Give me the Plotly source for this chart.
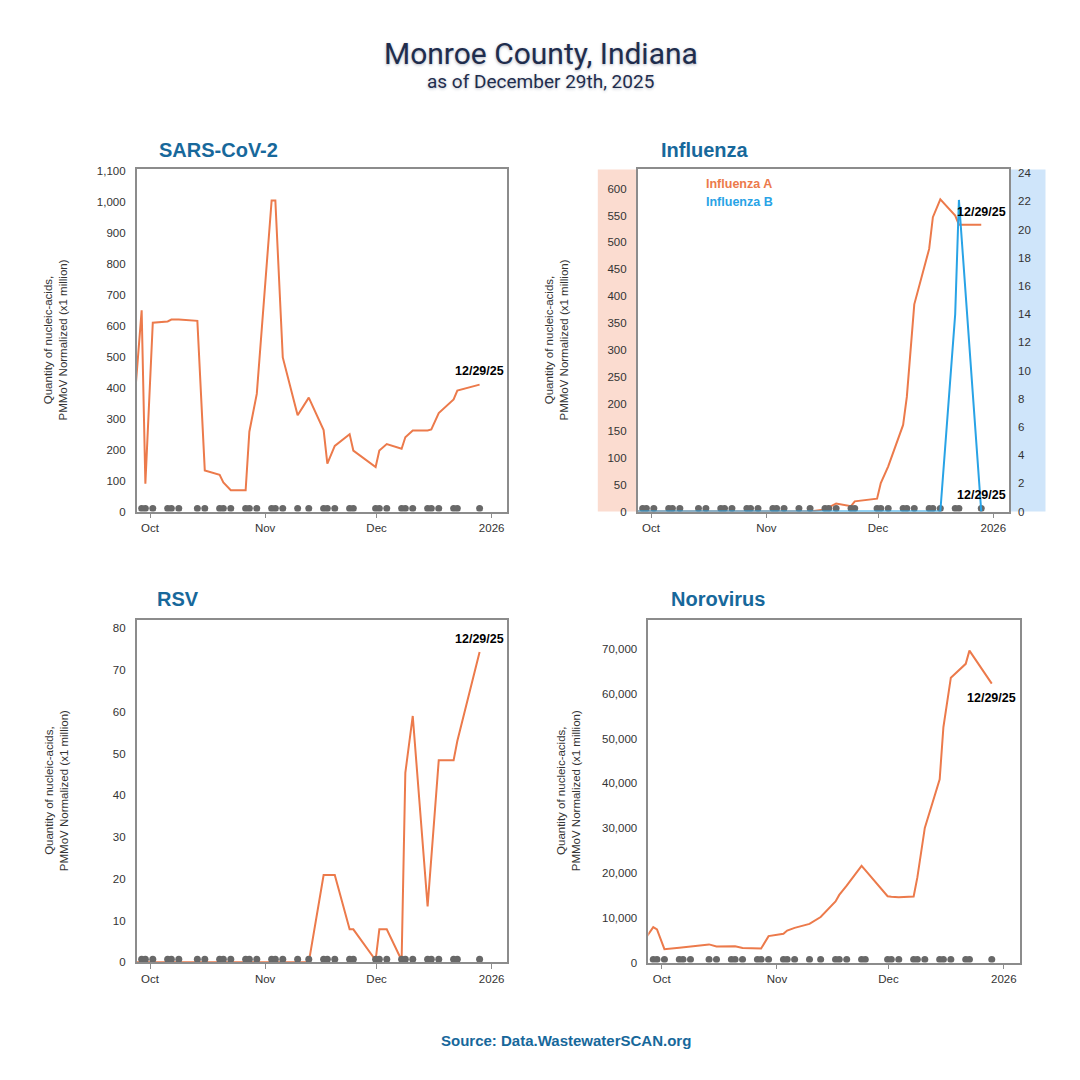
import pandas as pd
import plotly.graph_objects as go

# ---------------- data ----------------
dates = ["2025-09-24", "2025-09-28", "2025-09-29", "2025-10-01", "2025-10-05", "2025-10-06",
         "2025-10-08", "2025-10-13", "2025-10-15", "2025-10-19", "2025-10-20", "2025-10-22",
         "2025-10-26", "2025-10-27", "2025-10-29", "2025-11-02", "2025-11-03", "2025-11-05",
         "2025-11-09", "2025-11-12", "2025-11-16", "2025-11-17", "2025-11-19", "2025-11-23",
         "2025-11-24", "2025-11-30", "2025-12-01", "2025-12-03", "2025-12-07", "2025-12-08",
         "2025-12-10", "2025-12-14", "2025-12-15", "2025-12-17", "2025-12-21", "2025-12-22",
         "2025-12-28"]

sars = [40, 650, 90, 610, 614, 620, 620, 616, 133, 119, 94, 69,
        69, 258, 380, 1005, 1005, 498, 311, 368, 263, 155, 212, 250,
        197, 144, 197, 218, 203, 240, 262, 262, 265, 318, 362, 391, 410]

flu_a = [0, 0, 0, 0, 0, 0, 0, 0, 0, 0, 0, 0,
         0, 0, 0, 0, 0, 0, 0, 0, 4, 8, 15, 10,
         19, 24, 53, 84, 161, 213, 385, 488, 547, 580, 550, 533, 533]

flu_b = [0, 0, 0, 0, 0, 0, 0, 0, 0, 0, 0, 0,
         0, 0, 0, 0, 0, 0, 0, 0, 0, 0, 0, 0,
         0, 0, 0, 0, 0, 0, 0, 0, 0, 0, 14, 22.1, 0]

rsv = [0, 0, 0, 0, 0, 0, 0, 0, 0, 0, 0, 0,
       0, 0, 0, 0, 0, 0, 0, 0, 20.9, 20.9, 20.9, 7.9,
       7.9, 0.5, 7.9, 7.9, 0.5, 45.4, 59, 13.4, 25.1, 48.4, 48.4, 53, 74.3]

noro = [3100, 7920, 7410, 2990, 3300, 3400, 3550, 4050, 3600, 3650, 3650, 3250,
        3150, 3150, 5900, 6410, 7150, 7740, 8620, 10170, 13630, 15100, 17170, 21590,
        20620, 14810, 14700, 14600, 14740, 19000, 30060, 40890, 52530, 63590, 66680, 69630, 62260]

month_ticks = ["2025-10-01", "2025-11-01", "2025-12-01", "2026-01-01"]
month_labels = ["Oct", "Nov", "Dec", "2026"]
report_label = "12/29/25"

# ---------------- style ----------------
W = H = 1080
ORANGE = "#ec7a4b"
BLUE = "#28a3e6"
DOT = "#686868"
AXIS = "#8c8c8c"
TITLE_BLUE = "#17689b"
TXT = "#333333"
SANS = "Liberation Sans, Arial, sans-serif"

x = pd.to_datetime(dates) + pd.Timedelta(hours=18)
x_range = ["2025-09-27 10:00", "2026-01-05 05:00"]


def px(v):
    return v / W


def py(v):
    return 1 - v / H


fig = go.Figure()

xaxis_common = dict(type="date", range=x_range, tickvals=month_ticks, ticktext=month_labels,
                    ticks="outside", ticklen=5, tickwidth=1, tickcolor=AXIS,
                    showline=True, linecolor=AXIS, linewidth=1.5, mirror=True,
                    showgrid=False, zeroline=False,
                    tickfont=dict(family=SANS, size=11.5, color=TXT))
yaxis_common = dict(showline=True, linecolor=AXIS, linewidth=1.5, mirror=True,
                    showgrid=False, zeroline=False, ticks="", tickformat=",",
                    ticklabelstandoff=7,
                    tickfont=dict(family=SANS, size=11.5, color=TXT))

panels = [
    dict(key="1", title="SARS-CoV-2", xd=(136.7, 507.3), yd=(167, 512.3), yr=[0, 1105], dt=100,
         tpos=(157, 147), ytx=56),
    dict(key="2", title="Influenza", xd=(637.7, 1009), yd=(167, 512.3), yr=[0, 635.6], dt=50,
         tpos=(659, 147), ytx=557),
    dict(key="3", title="RSV", xd=(136.7, 507.3), yd=(621.7, 967.3), yr=[0, 82], dt=10,
         tpos=(155, 601), ytx=56),
    dict(key="4", title="Norovirus", xd=(648.3, 1019.5), yd=(621.7, 967.5), yr=[0, 76480], dt=10000,
         tpos=(669, 601), ytx=568),
]

layout_axes = {}
annotations = []
for p in panels:
    k = p["key"]
    xn = "xaxis" if k == "1" else "xaxis" + k
    yn = "yaxis" if k == "1" else "yaxis" + k
    layout_axes[xn] = dict(xaxis_common, domain=[px(p["xd"][0]), px(p["xd"][1])],
                           anchor="y" if k == "1" else "y" + k)
    layout_axes[yn] = dict(yaxis_common, domain=[py(p["yd"][1]), py(p["yd"][0])],
                           range=p["yr"], dtick=p["dt"], tick0=0,
                           anchor="x" if k == "1" else "x" + k)
    annotations.append(dict(text="<b>" + p["title"] + "</b>", xref="paper", yref="paper",
                            x=px(p["tpos"][0]), y=py(p["tpos"][1]), xanchor="left", yanchor="middle",
                            showarrow=False, font=dict(family=SANS, size=20, color=TITLE_BLUE)))
    annotations.append(dict(text="Quantity of nucleic-acids,<br>PMMoV Normalized (x1 million)",
                            xref="paper", yref="paper", textangle=-90,
                            x=px(p["ytx"]), y=py((p["yd"][0] + p["yd"][1]) / 2),
                            xanchor="center", yanchor="middle", showarrow=False,
                            font=dict(family=SANS, size=11.5, color=TXT)))

# influenza right axis
layout_axes["yaxis5"] = dict(overlaying="y2", side="right", anchor="x2", range=[0, 24.26], dtick=2, tick0=0,
                             showline=False, showgrid=False, zeroline=False, ticks="",
                             ticklabelstandoff=8, tickfont=dict(family=SANS, size=11.5, color=TXT))


def add_line(yvals, xa, ya, color):
    fig.add_trace(go.Scatter(x=x, y=yvals, mode="lines", xaxis=xa, yaxis=ya,
                             line=dict(color=color, width=2), showlegend=False, hoverinfo="skip"))


def add_dots(xa, ya, ytop):
    fig.add_trace(go.Scatter(x=x, y=[ytop * 0.0087] * len(x), mode="markers", xaxis=xa, yaxis=ya,
                             marker=dict(color=DOT, size=7), showlegend=False, hoverinfo="skip"))


add_line(sars, "x", "y", ORANGE)
add_dots("x", "y", 1105)

add_line(flu_a, "x2", "y2", ORANGE)
add_line(flu_b, "x2", "y5", BLUE)
add_dots("x2", "y2", 635.6)

add_line(rsv, "x3", "y3", ORANGE)
add_dots("x3", "y3", 82)

add_line(noro, "x4", "y4", ORANGE)
add_dots("x4", "y4", 76480)

# end-point labels
last_x = x[-1]
for xa, ya, val, shift in [("x", "y", sars[-1], 14), ("x2", "y2", flu_a[-1], 13),
                           ("x2", "y5", flu_b[-1], 17), ("x3", "y3", rsv[-1], 13),
                           ("x4", "y4", noro[-1], -14.5)]:
    annotations.append(dict(text="<b>" + report_label + "</b>", x=last_x, y=val, xref=xa, yref=ya,
                            showarrow=False, yshift=shift, xanchor="center", yanchor="middle",
                            font=dict(family=SANS, size=12.5, color="#000000")))

# influenza legend
annotations.append(dict(text="<b>Influenza A</b>", xref="paper", yref="paper", x=px(704), y=py(182),
                        xanchor="left", yanchor="middle", showarrow=False,
                        font=dict(family=SANS, size=12.5, color=ORANGE)))
annotations.append(dict(text="<b>Influenza B</b>", xref="paper", yref="paper", x=px(704), y=py(199.5),
                        xanchor="left", yanchor="middle", showarrow=False,
                        font=dict(family=SANS, size=12.5, color=BLUE)))

# main titles and source
annotations.append(dict(text="Monroe County, Indiana", xref="paper", yref="paper", x=px(541), y=py(50),
                        xanchor="center", yanchor="middle", showarrow=False,
                        font=dict(family="Roboto, sans-serif", size=30, color="#1f2d4d",
                                  shadow="0px 1px 3px rgba(31,45,77,0.35)")))
annotations.append(dict(text="as of December 29th, 2025", xref="paper", yref="paper", x=px(540), y=py(78),
                        xanchor="center", yanchor="middle", showarrow=False,
                        font=dict(family="Roboto, sans-serif", size=19, color="#1f2d4d",
                                  shadow="0px 1px 3px rgba(31,45,77,0.3)")))
annotations.append(dict(text="<b>Source: Data.WastewaterSCAN.org</b>", xref="paper", yref="paper",
                        x=px(566), y=py(1046), xanchor="center", yanchor="middle", showarrow=False,
                        font=dict(family=SANS, size=15, color=TITLE_BLUE)))

shapes = [
    dict(type="rect", xref="paper", yref="paper", x0=px(597.8), x1=px(637.7), y0=py(512.3), y1=py(167),
         fillcolor="#fbdcd0", line=dict(width=0), layer="below"),
    dict(type="rect", xref="paper", yref="paper", x0=px(1009), x1=px(1045.5), y0=py(512.3), y1=py(167),
         fillcolor="#cfe5fa", line=dict(width=0), layer="below"),
]

fig.update_layout(width=W, height=H, autosize=False, margin=dict(l=0, r=0, t=0, b=0),
                  paper_bgcolor="white", plot_bgcolor="rgba(0,0,0,0)",
                  annotations=annotations, shapes=shapes, showlegend=False, **layout_axes)

fig.write_html("out.html")
